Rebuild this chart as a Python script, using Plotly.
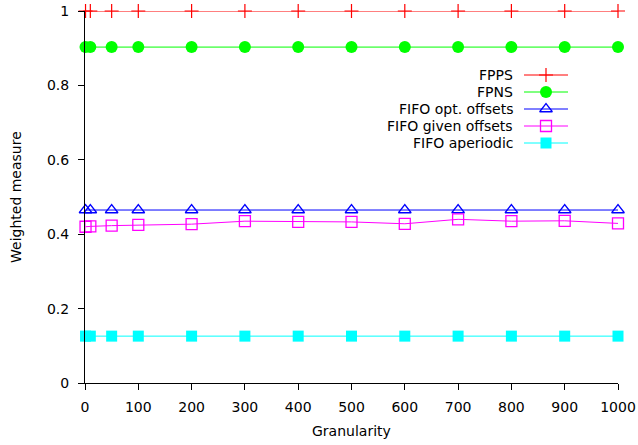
import plotly.graph_objects as go

# Granularity values (x) and weighted measures per scheduling policy
granularity = [1, 10, 50, 100, 200, 300, 400, 500, 600, 700, 800, 900, 1000]
fpps = [1.0] * 13
fpns = [0.903] * 13
fifo_opt = [0.465] * 13
fifo_given = [0.420, 0.421, 0.423, 0.425, 0.427, 0.435, 0.433, 0.433, 0.428, 0.440, 0.435, 0.436, 0.429]
fifo_aperiodic = [0.126] * 13

series = [
    ("FPPS", fpps, "#ff0000", dict(symbol="cross-thin", size=10, line=dict(width=1.2, color="#ff0000"))),
    ("FPNS", fpns, "#00ff00", dict(symbol="circle", size=12, color="#00ff00", line=dict(width=0))),
    ("FIFO opt. offsets", fifo_opt, "#0000ff", dict(symbol="triangle-up-open", size=11, color="#0000ff", line=dict(width=1.3))),
    ("FIFO given offsets", fifo_given, "#ff00ff", dict(symbol="square-open", size=11, color="#ff00ff", line=dict(width=1.3))),
    ("FIFO aperiodic", fifo_aperiodic, "#00ffff", dict(symbol="square", size=11, color="#00ffff", line=dict(width=0))),
]

FONT = "DejaVu Sans"
FS = 14
# Plot area in pixels (left, right, top, bottom) used for placing titles
PL, PR, PT, PB = 85, 618, 11, 383
fig = go.Figure()

for name, vals, color, marker in series:
    fig.add_trace(go.Scatter(
        x=granularity, y=vals, mode="lines+markers", name=name,
        line=dict(color=color, width=1), marker=marker,
        cliponaxis=False, showlegend=False,
    ))

# Key box drawn on an overlay axis in pixel units, gnuplot style (text left of sample)
key_rows = [75, 92, 109, 126, 143]
annotations = []
for (name, vals, color, marker), ky in zip(series, key_rows):
    fig.add_trace(go.Scatter(
        x=[524, 568], y=[ky, ky], mode="lines", line=dict(color=color, width=1),
        xaxis="x2", yaxis="y2", showlegend=False, hoverinfo="skip", cliponaxis=False,
    ))
    fig.add_trace(go.Scatter(
        x=[546], y=[ky], mode="markers", marker=marker,
        xaxis="x2", yaxis="y2", showlegend=False, hoverinfo="skip", cliponaxis=False,
    ))
    annotations.append(dict(
        x=515, y=ky, xref="x2", yref="y2", text=name, showarrow=False,
        xanchor="right", yanchor="middle", font=dict(family=FONT, size=FS, color="#000"),
    ))


def paper_x(px):
    return (px - PL) / (PR - PL)


def paper_y(py):
    return (PB - py) / (PB - PT)


# Axis titles
annotations.append(dict(
    x=paper_x(351), y=paper_y(431), xref="paper", yref="paper", text="Granularity",
    showarrow=False, xanchor="center", yanchor="middle",
    font=dict(family=FONT, size=FS, color="#000"),
))
annotations.append(dict(
    x=paper_x(16), y=paper_y(197), xref="paper", yref="paper", text="Weighted measure",
    showarrow=False, textangle=-90, xanchor="center", yanchor="middle",
    font=dict(family=FONT, size=FS, color="#000"),
))

axis_common = dict(
    showgrid=False, zeroline=False, showline=True, linecolor="#000", linewidth=1,
    ticks="outside", ticklen=6, tickcolor="#000", automargin=False,
    tickfont=dict(family=FONT, size=FS, color="#000"),
)

fig.update_layout(
    width=638, height=445,
    margin=dict(l=PL, r=638 - PR, t=PT, b=445 - PB),
    paper_bgcolor="white", plot_bgcolor="white",
    font=dict(family=FONT, size=FS, color="#000"),
    xaxis=dict(
        range=[0, 1000], tickmode="array", tickvals=list(range(0, 1001, 100)),
        ticklabelstandoff=5,
        **axis_common,
    ),
    yaxis=dict(
        range=[0, 1], tickmode="array", tickvals=[0, 0.2, 0.4, 0.6, 0.8, 1],
        ticktext=["0", "0.2", "0.4", "0.6", "0.8", "1"],
        ticklabelstandoff=6,
        **axis_common,
    ),
    xaxis2=dict(range=[PL, PR], overlaying="x", visible=False, domain=[0, 1]),
    yaxis2=dict(range=[PB, PT], overlaying="y", visible=False, domain=[0, 1]),
    annotations=annotations,
)

fig.write_html("out.html")
